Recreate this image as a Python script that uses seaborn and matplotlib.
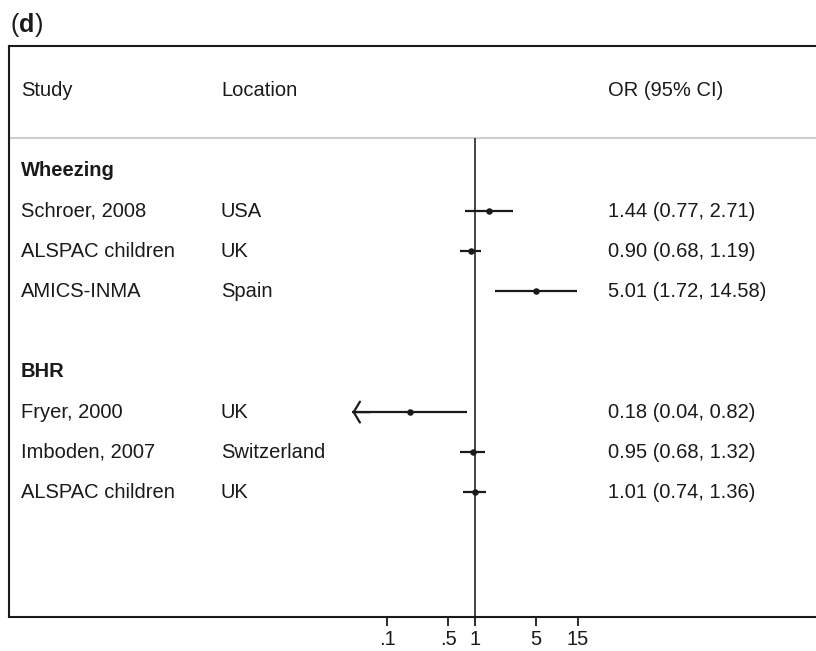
import matplotlib
matplotlib.use("Agg")
import matplotlib.pyplot as plt
import seaborn as sns
import pandas as pd
import numpy as np

sns.set_theme(style="white")
plt.rcParams['font.family'] = ['Liberation Sans', 'DejaVu Sans']

# ---- data ----
groups = ["Wheezing", "BHR"]
studies = ["Schroer, 2008", "ALSPAC children", "AMICS-INMA",
           "Fryer, 2000", "Imboden, 2007", "ALSPAC children"]
locations = ["USA", "UK", "Spain", "UK", "Switzerland", "UK"]
group_of = ["Wheezing", "Wheezing", "Wheezing", "BHR", "BHR", "BHR"]
or_vals = [1.44, 0.90, 5.01, 0.18, 0.95, 1.01]
ci_lo = [0.77, 0.68, 1.72, 0.04, 0.68, 0.74]
ci_hi = [2.71, 1.19, 14.58, 0.82, 1.32, 1.36]
or_text = ["1.44 (0.77, 2.71)", "0.90 (0.68, 1.19)", "5.01 (1.72, 14.58)",
           "0.18 (0.04, 0.82)", "0.95 (0.68, 1.32)", "1.01 (0.74, 1.36)"]
tick_vals = [0.1, 0.5, 1, 5, 15]
tick_labels = [".1", ".5", "1", "5", "15"]
col_headers = ["Study", "Location", "OR (95% CI)"]

# ---- layout rows ----
rows = []
group_rows = {}
r = 2
for g in groups:
    group_rows[g] = r
    r += 1
    for i, gg in enumerate(group_of):
        if gg == g:
            rows.append(r)
            r += 1
    r += 1
df = pd.DataFrame({"study": studies, "location": locations, "group": group_of,
                   "OR": or_vals, "lo": ci_lo, "hi": ci_hi, "txt": or_text,
                   "row": rows})

W, H = 816, 651
fig = plt.figure(figsize=(W / 100, H / 100), dpi=100)
ax_left, ax_right, ax_top, ax_bot = 9, 816, 46, 616.5
ax = fig.add_axes([ax_left / W, 1 - ax_bot / H, (ax_right - ax_left) / W,
                   (ax_bot - ax_top) / H])

px_per_dec = 87.5
x1 = 474.7
ax.set_xscale("log")
ax.set_xlim(10 ** ((ax_left - x1) / px_per_dec), 10 ** ((ax_right - x1) / px_per_dec))
row0, rowsp = 90.5, 40.2
ax.set_ylim((ax_bot - row0) / rowsp, (ax_top - row0) / rowsp)
sep_row = (138 - row0) / rowsp

dark = "#1a1a1a"
# separator line under header
ax.axhline(sep_row, color="#d0d0d0", lw=1.5, zorder=1)
# null line
ax.vlines(1, sep_row, ax.get_ylim()[0], color="#444444", lw=1.4, zorder=2)

# CIs (with arrow where lower bound falls below the lowest tick)
xmin_t = min(tick_vals)
for _, d in df.iterrows():
    lo = d["lo"]
    ax.hlines(d["row"], lo, d["hi"], color=dark, lw=1.6, zorder=3)
    if lo < xmin_t:
        ax.annotate("", xy=(lo, d["row"]), xytext=(lo * 1.6, d["row"]),
                    arrowprops=dict(arrowstyle="->,head_length=0.45,head_width=0.75",
                                    lw=1.6, color=dark, mutation_scale=10,
                                    shrinkA=0, shrinkB=0), zorder=3)
sns.scatterplot(data=df, x="OR", y="row", ax=ax, color=dark, s=22,
                edgecolor=dark, linewidth=0, zorder=4, legend=False)

# text columns
fs = 14.5
trans = ax.get_yaxis_transform()
cx = [(21 - ax_left) / (ax_right - ax_left), (221 - ax_left) / (ax_right - ax_left),
      (607.5 - ax_left) / (ax_right - ax_left)]
for c, h in zip(cx, col_headers):
    ax.text(c, 0, h, transform=trans, va="center", ha="left", fontsize=fs, color=dark)
for g in groups:
    ax.text(cx[0], group_rows[g], g, transform=trans, va="center", ha="left",
            fontsize=fs, fontweight="bold", color=dark)
for _, d in df.iterrows():
    ax.text(cx[0], d["row"], d["study"], transform=trans, va="center", ha="left",
            fontsize=fs, color=dark)
    ax.text(cx[1], d["row"], d["location"], transform=trans, va="center", ha="left",
            fontsize=fs, color=dark)
    ax.text(cx[2], d["row"], d["txt"], transform=trans, va="center", ha="left",
            fontsize=fs, color=dark)

# axes styling
ax.set_xticks(tick_vals)
ax.set_xticklabels(tick_labels, fontsize=fs, color=dark)
ax.xaxis.set_minor_locator(matplotlib.ticker.NullLocator())
ax.tick_params(axis="x", direction="out", length=6.5, width=1.3, color=dark,
               pad=3.5, bottom=True)
ax.set_yticks([])
ax.set_xlabel("")
ax.set_ylabel("")
for s in ["left", "top", "bottom"]:
    ax.spines[s].set_visible(True)
    ax.spines[s].set_color(dark)
    ax.spines[s].set_linewidth(1.5)
ax.spines["right"].set_visible(False)

fig.text(10 / W, 1 - 25 / H, "(", fontsize=18, va="center", ha="left", color=dark)
fig.text(18.5 / W, 1 - 25 / H, "d", fontsize=18, fontweight="bold", va="center",
         ha="left", color=dark)
fig.text(35 / W, 1 - 25 / H, ")", fontsize=18, va="center", ha="left", color=dark)

fig.savefig("out.png", dpi=100)
